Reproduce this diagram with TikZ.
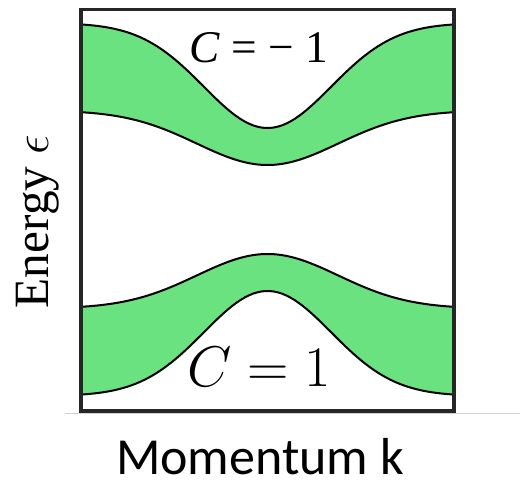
\RequirePackage{fix-cm}
\documentclass[tikz,border=0pt]{standalone}
\usepackage{fontspec}
\setmainfont{Liberation Serif}
\newfontfamily\calibrifont{Carlito}
\usepackage{tikz}
\definecolor{bandgreen}{RGB}{107,226,128}

\begin{document}
\begin{tikzpicture}[x=0.75pt, y=-0.75pt,
  band/.style={fill=bandgreen, draw=black, line width=1.5pt, line join=round},
  frame/.style={draw=black!85, line width=2.3pt}]
\useasboundingbox (0,0) rectangle (520,481);

% upper band (C = -1)
\path[band] plot[domain=81:454, samples=90] (\x, {23+105*exp(-((\x-267.5)/90)^2)})
 -- plot[domain=454:81, samples=90] (\x, {110.5+54.5*exp(-((\x-267.5)/100)^2)}) -- cycle;
% lower band (C = 1)
\path[band] plot[domain=81:454, samples=90] (\x, {308.5-54.5*exp(-((\x-267.5)/100)^2)})
 -- plot[domain=454:81, samples=90] (\x, {396-105*exp(-((\x-267.5)/90)^2)}) -- cycle;

\draw[frame] (81,9.5) rectangle (454,411);
\draw[gray!35, line width=0.75pt] (65,413.5) -- (520,413.5);

\node[anchor=base, inner sep=0pt, font=\fontsize{34}{40}\selectfont] (cminus) at (259,63) {\textit{C} = − 1};
\node[anchor=base, inner sep=0pt, font=\fontsize{43}{50}\selectfont] (cplus) at (259.5,386) {$C=1$};

\node[anchor=base, inner sep=0pt, rotate=90, font=\fontsize{37}{44}\selectfont] (energy) at (48,221.5) {Energy $\epsilon$};
\node[anchor=base, inner sep=0pt, text depth=0pt, font=\calibrifont\fontsize{39}{46}\selectfont] (momentum) at (260,474.5) {Momentum k};
\end{tikzpicture}
\end{document}
